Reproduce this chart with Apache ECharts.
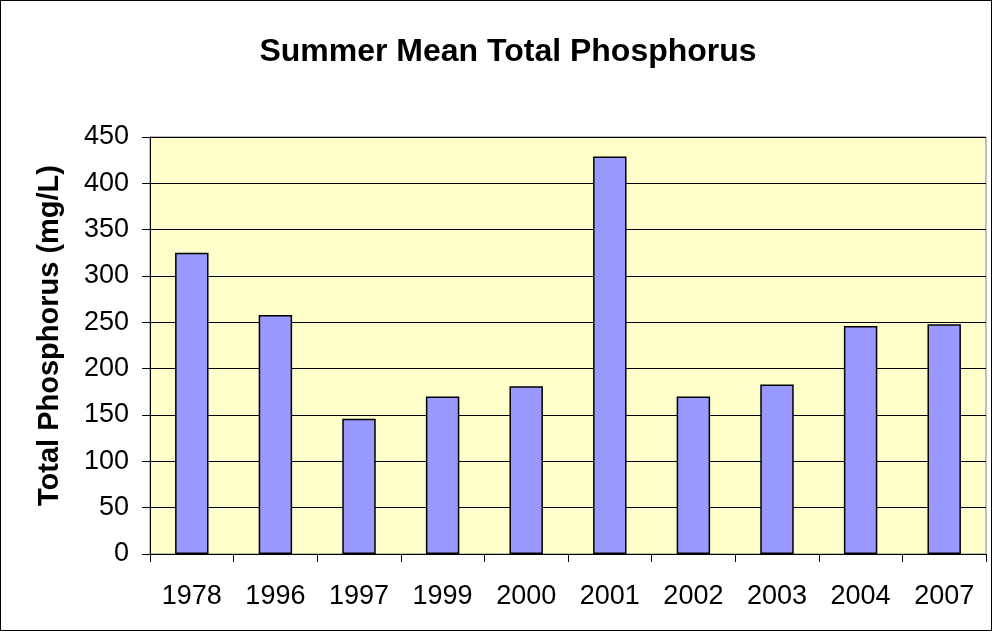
<!DOCTYPE html>
<html lang="en">
<head>
<meta charset="UTF-8">
<title>Summer Mean Total Phosphorus</title>
<script src="https://cdn.jsdelivr.net/npm/echarts@6/dist/echarts.min.js"></script>
<style>
  body { margin: 0; padding: 0; }
  #main { width: 990px; height: 629px; border: 1px solid #000; }
</style>
</head>
<body>
<div id="main"></div>
<script>
var years = ['1978', '1996', '1997', '1999', '2000', '2001', '2002', '2003', '2004', '2007'];
var phosphorus = [325, 258, 146, 170, 181, 429, 170, 183, 246, 248];

var chart = echarts.init(document.getElementById('main'));
var font = 'Liberation Sans, Arial, sans-serif';
chart.setOption({
  animation: false,
  title: {
    text: 'Summer Mean Total Phosphorus',
    left: 502, top: 30, textAlign: 'center',
    textStyle: { fontFamily: font, fontSize: 32, fontWeight: 'bold', color: '#000' }
  },
  grid: {
    left: 149, right: 5, top: 136, bottom: 76,
    show: true, backgroundColor: '#FFFFCC', borderColor: '#808080', borderWidth: 1
  },
  xAxis: {
    type: 'category',
    data: years,
    axisLine: { lineStyle: { color: '#000' } },
    axisTick: { show: true, length: 8, lineStyle: { color: '#000' } },
    axisLabel: { fontFamily: font, fontSize: 27, color: '#000', margin: 29 }
  },
  yAxis: {
    type: 'value',
    min: 0, max: 450, interval: 50,
    name: 'Total Phosphorus (mg/L)',
    nameLocation: 'middle', nameGap: 86,
    nameTextStyle: { fontFamily: font, fontSize: 29, fontWeight: 'bold', color: '#000', padding: [0, 0, 0, 20] },
    axisLine: { show: true, lineStyle: { color: '#000' } },
    axisTick: { show: true, length: 8, lineStyle: { color: '#000' } },
    axisLabel: { fontFamily: font, fontSize: 27, color: '#000', margin: 21 },
    splitLine: { lineStyle: { color: '#000' } }
  },
  series: [{
    type: 'bar',
    data: phosphorus,
    barWidth: '40%',
    itemStyle: { color: '#9999FF', borderColor: '#000', borderWidth: 1.5 }
  }]
});
</script>
</body>
</html>
